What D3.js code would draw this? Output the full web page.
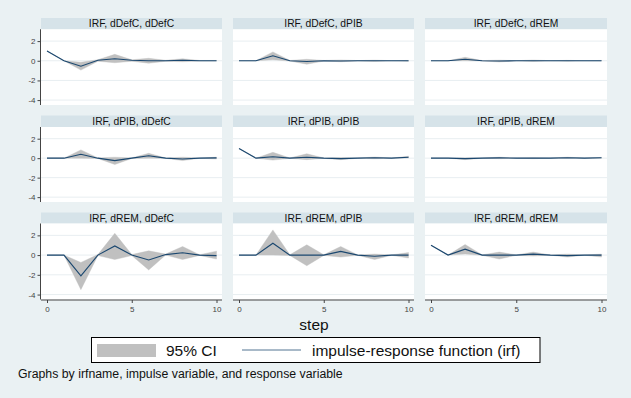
<!DOCTYPE html>
<html><head><meta charset="utf-8">
<script src="https://cdn.jsdelivr.net/npm/d3@7"></script>
<style>
html,body{margin:0;padding:0;background:#eaf1f3;}
svg{display:block;font-family:"Liberation Sans",Arial,Helvetica,sans-serif;}
</style>
</head><body>
<svg id="chart" width="631" height="398"></svg>
<script>
// ---- data ----
const steps = [0,1,2,3,4,5,6,7,8,9,10];
const variables = ["dDefC","dPIB","dREM"];
const yTicks = [-4,-2,0,2];
const xTicks = [0,5,10];
const xLabel = "step";
const legendLabels = ["95% CI","impulse-response function (irf)"];
const note = "Graphs by irfname, impulse variable, and response variable";

// impulse dDefC
const irf_dDefC_dDefC = [1.0, 0, -0.55, 0.05, 0.2, 0.05, 0.0, 0.0, 0.05, 0.0, 0.0];
const lo_dDefC_dDefC  = [1.0, 0, -0.95, -0.05, -0.2, -0.05, -0.25, -0.05, -0.1, -0.03, -0.03];
const hi_dDefC_dDefC  = [1.0, 0, -0.15, 0.1, 0.65, 0.1, 0.25, 0.05, 0.2, 0.03, 0.03];

const irf_dDefC_dPIB = [0, 0, 0.5, 0, -0.08, 0, -0.02, 0, 0.0, 0, 0.0];
const lo_dDefC_dPIB  = [0, 0, 0.1, -0.03, -0.35, -0.03, -0.1, -0.02, -0.08, -0.01, -0.05];
const hi_dDefC_dPIB  = [0, 0, 0.9, 0.03, 0.15, 0.03, 0.08, 0.02, 0.06, 0.01, 0.03];

const irf_dDefC_dREM = [0, 0, 0.15, 0, -0.03, 0, 0.0, 0, 0.0, 0, 0];
const lo_dDefC_dREM  = [0, 0, 0.0, -0.02, -0.12, -0.01, -0.07, -0.01, -0.04, -0.01, -0.03];
const hi_dDefC_dREM  = [0, 0, 0.35, 0.02, 0.06, 0.01, 0.07, 0.01, 0.04, 0.01, 0.03];

// impulse dPIB
const irf_dPIB_dDefC = [0, 0, 0.4, 0, -0.25, 0, 0.25, 0, -0.08, 0, 0.03];
const lo_dPIB_dDefC  = [0, 0, 0.0, -0.03, -0.65, -0.03, 0.0, -0.02, -0.25, -0.01, -0.08];
const hi_dPIB_dDefC  = [0, 0, 0.85, 0.03, 0.1, 0.03, 0.5, 0.02, 0.1, 0.01, 0.1];

const irf_dPIB_dPIB = [1.0, 0, 0.15, 0, 0.1, 0, -0.05, 0, 0.05, 0, 0.1];
const lo_dPIB_dPIB  = [1.0, 0, -0.2, -0.02, -0.15, -0.02, -0.15, -0.01, -0.06, -0.01, 0.02];
const hi_dPIB_dPIB  = [1.0, 0, 0.6, 0.02, 0.45, 0.02, 0.07, 0.01, 0.12, 0.01, 0.2];

const irf_dPIB_dREM = [0, 0, -0.05, 0, 0.03, 0, 0.0, 0, 0.05, 0, 0.05];
const lo_dPIB_dREM  = [0, 0, -0.15, -0.01, -0.05, -0.01, -0.05, -0.01, 0.0, -0.01, 0.0];
const hi_dPIB_dREM  = [0, 0, 0.04, 0.01, 0.1, 0.01, 0.05, 0.01, 0.1, 0.01, 0.08];

// impulse dREM
const irf_dREM_dDefC = [0, 0, -2.1, 0, 0.93, 0, -0.5, 0.05, 0.23, 0, -0.05];
const lo_dREM_dDefC  = [0, 0, -3.5, -0.05, -0.45, -0.05, -1.5, 0.0, -0.45, -0.03, -0.4];
const hi_dREM_dDefC  = [0, 0, -0.75, 0.05, 2.2, 0.05, 0.43, 0.1, 0.87, 0.03, 0.4];

const irf_dREM_dPIB = [0, 0, 1.2, 0, 0.0, 0, 0.37, 0, -0.12, 0, 0.0];
const lo_dREM_dPIB  = [0, 0, 0.0, -0.03, -1.08, -0.03, -0.2, -0.02, -0.45, -0.02, -0.3];
const hi_dREM_dPIB  = [0, 0, 2.55, 0.03, 1.04, 0.03, 0.87, 0.02, 0.1, 0.02, 0.25];

const irf_dREM_dREM = [1.0, 0, 0.6, 0, 0.0, 0, 0.1, 0, -0.05, 0, 0.0];
const lo_dREM_dREM  = [1.0, 0, 0.1, -0.02, -0.4, -0.02, -0.1, -0.01, -0.2, -0.01, -0.2];
const hi_dREM_dREM  = [1.0, 0, 1.07, 0.02, 0.3, 0.02, 0.3, 0.01, 0.1, 0.01, 0.1];

const panels = [
  {imp:"dDefC", res:"dDefC", irf:irf_dDefC_dDefC, lo:lo_dDefC_dDefC, hi:hi_dDefC_dDefC},
  {imp:"dDefC", res:"dPIB",  irf:irf_dDefC_dPIB,  lo:lo_dDefC_dPIB,  hi:hi_dDefC_dPIB},
  {imp:"dDefC", res:"dREM",  irf:irf_dDefC_dREM,  lo:lo_dDefC_dREM,  hi:hi_dDefC_dREM},
  {imp:"dPIB",  res:"dDefC", irf:irf_dPIB_dDefC,  lo:lo_dPIB_dDefC,  hi:hi_dPIB_dDefC},
  {imp:"dPIB",  res:"dPIB",  irf:irf_dPIB_dPIB,   lo:lo_dPIB_dPIB,   hi:hi_dPIB_dPIB},
  {imp:"dPIB",  res:"dREM",  irf:irf_dPIB_dREM,   lo:lo_dPIB_dREM,   hi:hi_dPIB_dREM},
  {imp:"dREM",  res:"dDefC", irf:irf_dREM_dDefC,  lo:lo_dREM_dDefC,  hi:hi_dREM_dDefC},
  {imp:"dREM",  res:"dPIB",  irf:irf_dREM_dPIB,   lo:lo_dREM_dPIB,   hi:hi_dREM_dPIB},
  {imp:"dREM",  res:"dREM",  irf:irf_dREM_dREM,   lo:lo_dREM_dREM,   hi:hi_dREM_dREM}
];

// ---- layout ----
const W = 631, H = 398;
const colLeft  = [41, 233, 425];
const colRight = [222, 414, 607];
const headTop  = [18, 115.5, 212.5];
const plotTop  = [29.3, 127, 223.5];
const plotBot  = [105, 202, 299.5];

const C = {
  bg: "#eaf1f3", head: "#d6e3e9", plot: "#ffffff", grid: "#e8eef1",
  ci: "#c0c0c0", line: "#1a476f", axis: "#444", text: "#111"
};

const svg = d3.select("#chart");
svg.append("rect").attr("width", W).attr("height", H).attr("fill", C.bg);

panels.forEach((p, i) => {
  const r = Math.floor(i / 3), c = i % 3;
  const L = colLeft[c], R = colRight[c];
  const x = d3.scaleLinear().domain([0, 10]).range([L + 6, R - 5.5]);
  const y = d3.scaleLinear().domain([-4.5, 3.2]).range([plotBot[r], plotTop[r]]);
  const g = svg.append("g");

  g.append("rect").attr("x", L).attr("y", headTop[r]).attr("width", R - L)
    .attr("height", plotTop[r] - headTop[r]).attr("fill", C.head);
  g.append("text").attr("x", (L + R) / 2).attr("y", (headTop[r] + plotTop[r]) / 2 + 3.6)
    .attr("text-anchor", "middle").attr("font-size", 10.3).attr("fill", C.text)
    .text(`IRF, ${p.imp}, ${p.res}`);

  g.append("rect").attr("x", L).attr("y", plotTop[r]).attr("width", R - L)
    .attr("height", plotBot[r] - plotTop[r]).attr("fill", C.plot);

  g.selectAll("line.grid").data(yTicks).join("line").attr("class", "grid")
    .attr("x1", L).attr("x2", R).attr("y1", d => y(d)).attr("y2", d => y(d))
    .attr("stroke", C.grid).attr("stroke-width", 1);

  const idx = steps.map((s, k) => k);
  const area = d3.area().x(k => x(steps[k])).y0(k => y(p.lo[k])).y1(k => y(p.hi[k]));
  g.append("path").attr("d", area(idx)).attr("fill", C.ci).attr("stroke", C.ci).attr("stroke-width", 0.4);

  const line = d3.line().x(k => x(steps[k])).y(k => y(p.irf[k]));
  g.append("path").attr("d", line(idx)).attr("fill", "none")
    .attr("stroke", C.line).attr("stroke-width", 1.1);

  if (c === 0) {
    const ax = d3.axisLeft(y).tickValues(yTicks).tickSize(3).tickPadding(2);
    const ag = g.append("g").attr("transform", `translate(${L - 0.5},0)`).call(ax);
    ag.select(".domain").attr("stroke", C.axis).attr("d", `M-3,${plotTop[r]}H0V${plotBot[r]}H-3`)
      .attr("d", `M0,${plotTop[r]}V${plotBot[r]}`);
    ag.selectAll(".tick line").attr("stroke", C.axis);
    ag.selectAll(".tick text").attr("font-size", 8).attr("fill", C.axis)
      .attr("font-family", "Liberation Sans, Arial, sans-serif")
      .text(d => d < 0 ? "-" + Math.abs(d) : d);
  }
  if (r === 2) {
    const ax = d3.axisBottom(x).tickValues(xTicks).tickSize(3).tickPadding(3);
    const ag = g.append("g").attr("transform", `translate(0,${plotBot[r] + 0.5})`).call(ax);
    ag.select(".domain").attr("stroke", C.axis).attr("d", `M${L},0H${R}`);
    ag.selectAll(".tick line").attr("stroke", C.axis);
    ag.selectAll(".tick text").attr("font-size", 8).attr("fill", C.axis)
      .attr("font-family", "Liberation Sans, Arial, sans-serif");
  }
});

// x title
svg.append("text").attr("x", 314).attr("y", 330).attr("text-anchor", "middle")
  .attr("font-size", 15.5).attr("fill", C.text).text(xLabel);

// legend
const lg = svg.append("g");
lg.append("rect").attr("x", 91.5).attr("y", 337.5).attr("width", 448.5).attr("height", 25)
  .attr("fill", "#fff").attr("stroke", "#000").attr("stroke-width", 1);
lg.append("rect").attr("x", 97).attr("y", 344).attr("width", 59).attr("height", 13).attr("fill", C.ci);
lg.append("text").attr("x", 166).attr("y", 355.5).attr("font-size", 15.5).attr("fill", C.text).text(legendLabels[0]);
lg.append("line").attr("x1", 242).attr("x2", 301).attr("y1", 350).attr("y2", 350)
  .attr("stroke", C.line).attr("stroke-width", 1).attr("stroke-opacity", 0.75);
lg.append("text").attr("x", 312).attr("y", 355.5).attr("font-size", 15.5).attr("fill", C.text).text(legendLabels[1]);

// note
svg.append("text").attr("x", 18).attr("y", 377.5).attr("font-size", 12.3).attr("fill", C.text).text(note);
</script>
</body></html>
